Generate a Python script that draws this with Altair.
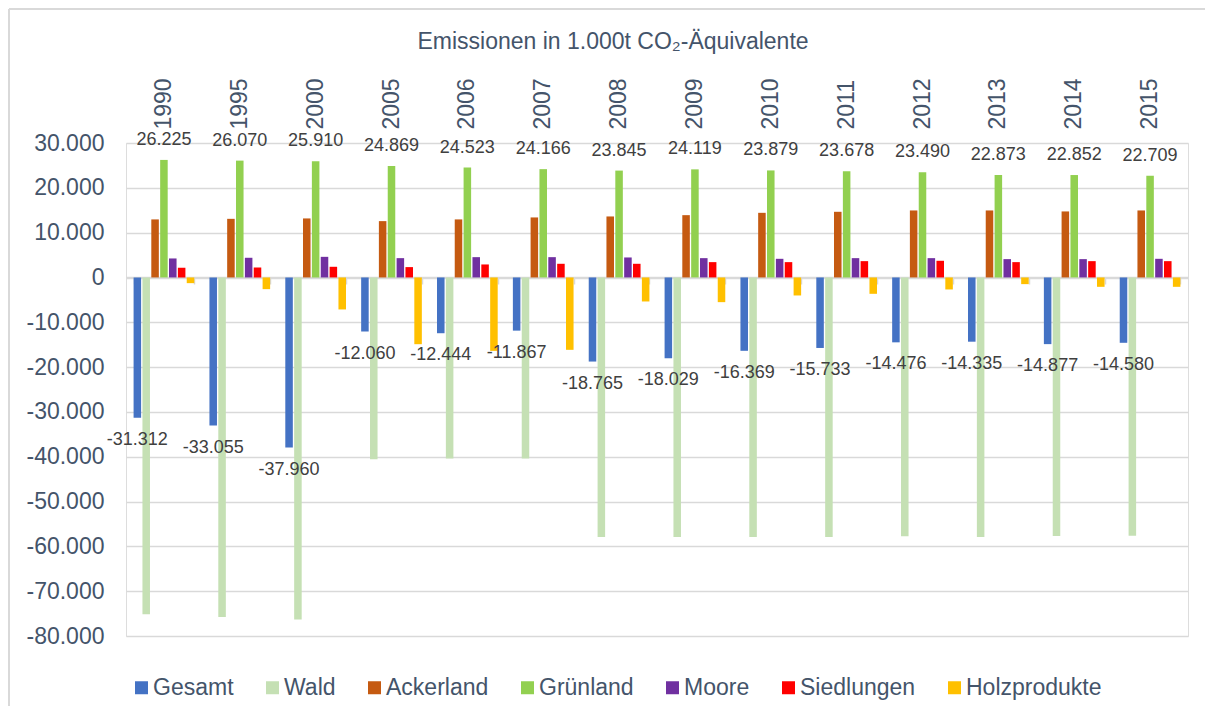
import altair as alt
import pandas as pd

years = ["1990", "1995", "2000", "2005", "2006", "2007", "2008", "2009",
         "2010", "2011", "2012", "2013", "2014", "2015"]
series = ["Gesamt", "Wald", "Ackerland", "Grünland", "Moore", "Siedlungen", "Holzprodukte"]
colors = ["#4472C4", "#C5E0B4", "#C55A11", "#92D050", "#7030A0", "#FF0000", "#FFC000"]

gesamt = [-31312, -33055, -37960, -12060, -12444, -11867, -18765, -18029,
          -16369, -15733, -14476, -14335, -14877, -14580]
wald = [-75150, -75760, -76340, -40560, -40400, -40400, -57900, -57900,
        -57900, -57900, -57750, -57900, -57700, -57650]
ackerland = [12950, 13080, 13170, 12570, 12950, 13390, 13610, 13900,
             14420, 14650, 14950, 14950, 14730, 14950]
gruenland = [26225, 26070, 25910, 24869, 24523, 24166, 23845, 24119,
             23879, 23678, 23490, 22873, 22852, 22709]
moore = [4240, 4390, 4600, 4310, 4530, 4530, 4460, 4310,
         4160, 4310, 4310, 4090, 4090, 4160]
siedlungen = [2140, 2230, 2380, 2310, 2900, 3050, 3050, 3420,
              3420, 3640, 3720, 3420, 3640, 3640]
holzprodukte = [-1270, -2610, -7140, -14890, -16380, -16150, -5360, -5510,
                -4020, -3650, -2680, -1490, -2090, -2090]

values = [gesamt, wald, ackerland, gruenland, moore, siedlungen, holzprodukte]


def fmt(v):
    return f"{v:,}".replace(",", ".")


rows = []
for i, yr in enumerate(years):
    for s, vals in zip(series, values):
        rows.append({"Jahr": yr, "Kategorie": s, "Wert": vals[i], "Label": fmt(vals[i])})
df = pd.DataFrame(rows)

FONT = "Liberation Sans, Arial, sans-serif"
TXT = "#44546A"
GRID = "#D9D9D9"

xscale = alt.Scale(domain=years, paddingInner=0.2, paddingOuter=0.1)
xoff = alt.XOffset("Kategorie:N", sort=series,
                   scale=alt.Scale(domain=series, paddingInner=0.15, paddingOuter=0))
yenc = alt.Y("Wert:Q",
             scale=alt.Scale(domain=[-80000, 30000], nice=False, zero=False),
             axis=alt.Axis(title=None, values=list(range(-80000, 30001, 10000)),
                           domain=False, ticks=False, tickSize=0, labelPadding=22,
                           labelFontSize=23, labelColor=TXT, labelFont=FONT,
                           gridColor=GRID, gridWidth=1.3,
                           labelExpr="replace(replace(format(datum.value, ','), ',', '.'), '\u2212', '-')"))

color = alt.Color("Kategorie:N", sort=series,
                  scale=alt.Scale(domain=series, range=colors),
                  legend=alt.Legend(title=None, orient="none", legendX=4, legendY=533,
                                    direction="horizontal", columns=7,
                                    symbolType="square", symbolSize=169,
                                    symbolStrokeWidth=0, labelFontSize=23,
                                    labelColor=TXT, labelFont=FONT,
                                    columnPadding=27, labelOffset=0, padding=0))

base = alt.Chart(df)

bars = base.mark_bar().encode(
    x=alt.X("Jahr:N", sort=years, scale=xscale,
            axis=alt.Axis(orient="top", title=None, labelAngle=-90, domain=False,
                          ticks=False, labelFontSize=23, labelColor=TXT,
                          labelFont=FONT, labelPadding=14, grid=False)),
    xOffset=xoff,
    y=yenc,
    color=color,
)

txt_gr = base.transform_filter(alt.datum.Kategorie == "Grünland").mark_text(
    dy=-20, fontSize=18, color="#404040", font=FONT
).encode(
    x=alt.X("Jahr:N", sort=years, scale=xscale,
            axis=alt.Axis(orient="bottom", offset=-358, labels=False, title=None,
                          domainColor=GRID, domainWidth=1.5, tickColor=GRID,
                          tickWidth=1.5, tickSize=6, tickBand="extent", grid=False)),
    xOffset=xoff,
    y=alt.Y("Wert:Q"),
    text="Label:N",
)

txt_ges = base.transform_filter(alt.datum.Kategorie == "Gesamt").mark_text(
    dy=22, fontSize=18, color="#404040", font=FONT
).encode(
    x=alt.X("Jahr:N", sort=years, scale=xscale, axis=None),
    xOffset=xoff,
    y=alt.Y("Wert:Q"),
    text="Label:N",
)

frame_df = pd.DataFrame({"k": [0]})
border_left = alt.Chart(frame_df).mark_rule(color=GRID, strokeWidth=2).encode(
    x=alt.value(-117), y=alt.value(-134), y2=alt.value(600))
border_top = alt.Chart(frame_df).mark_rule(color=GRID, strokeWidth=2).encode(
    x=alt.value(-117), x2=alt.value(1079), y=alt.value(-134))

chart = alt.layer(bars, txt_gr, txt_ges, border_left, border_top).resolve_axis(
    x="independent"
).properties(
    width=1062,
    height=493,
    autosize=alt.AutoSizeParams(type="none"),
    padding={"left": 118, "top": 135, "right": 17, "bottom": 70},
    title=alt.TitleParams("Emissionen in 1.000t CO₂-Äquivalente", fontSize=23,
                          font=FONT, color=TXT, fontWeight="normal",
                          anchor="middle", frame="group", offset=0,
                          baseline="alphabetic", dx=-44, dy=64),
).configure_view(stroke=None).configure(background="white")

chart.save("out.html", embed_options={"renderer": "svg", "actions": False})
